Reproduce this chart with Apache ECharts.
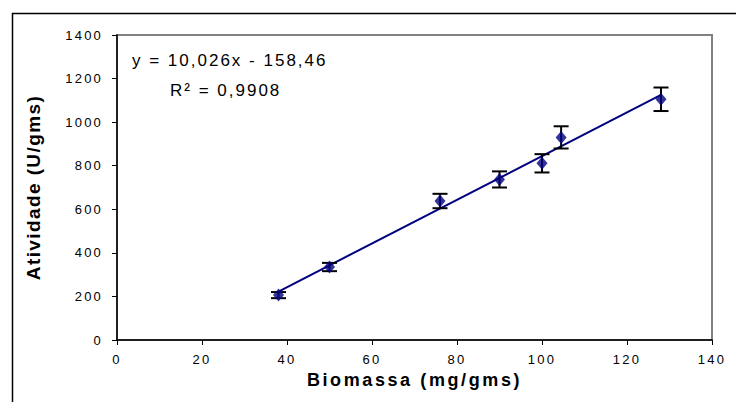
<!DOCTYPE html>
<html>
<head>
<meta charset="utf-8">
<script src="https://cdn.jsdelivr.net/npm/echarts@6/dist/echarts.min.js"></script>
<style>
html,body{margin:0;padding:0;background:#fff;}
#chart{width:736px;height:402px;}
#chart text[style*="13px"]{letter-spacing:2.2px;}
#chart text[style*="17px"]{letter-spacing:2px;}
#chart text[style*="18px"]{letter-spacing:2.6px;}
#chart text[style*="19px"]{letter-spacing:1.4px;}
</style>
</head>
<body>
<div id="chart"></div>
<script>
// Data
const biomassa = [38, 50, 76, 90, 100, 104.5, 128];
const atividade = [206, 335, 638, 737, 811, 930, 1105];
const erro = [14, 19, 33, 37, 42, 51, 54];
// Trendline as printed on the chart
const slope = 10.026;
const intercept = -158.46;
const trendX = [38, 128];
const eqText = 'y = 10,026x - 158,46';
const r2Text = 'R\u00B2 = 0,9908';
const xTitle = 'Biomassa (mg/gms)';
const yTitle = 'Atividade (U/gms)';

const points = biomassa.map((x, i) => [x, atividade[i]]);
const errData = biomassa.map((x, i) => [x, atividade[i] - erro[i], atividade[i] + erro[i]]);
const trendData = trendX.map(x => [x, slope * x + intercept]);

const chart = echarts.init(document.getElementById('chart'), null, {renderer: 'svg'});
const font = '"Liberation Sans", Arial, sans-serif';
chart.setOption({
  animation: false,
  backgroundColor: '#fff',
  grid: {left: 117, right: 24, top: 35, bottom: 62, show: true, borderColor: '#808080', borderWidth: 2, backgroundColor: 'transparent'},
  xAxis: {
    type: 'value', min: 0, max: 140, interval: 20,
    name: xTitle, nameLocation: 'middle', nameGap: 31,
    nameTextStyle: {fontFamily: font, fontSize: 18, fontWeight: 'bold', color: '#000'},
    axisLine: {show: true, onZero: false, lineStyle: {color: '#000', width: 1.5}},
    axisTick: {show: true, inside: false, length: 5, lineStyle: {color: '#000', width: 1}},
    axisLabel: {fontFamily: font, fontSize: 13, color: '#000', margin: 13, formatter: v => String(v)},
    splitLine: {show: false}
  },
  yAxis: {
    type: 'value', min: 0, max: 1400, interval: 200,
    name: yTitle, nameLocation: 'middle', nameGap: 74,
    nameTextStyle: {fontFamily: font, fontSize: 19, fontWeight: 'bold', color: '#000'},
    axisLine: {show: true, onZero: false, lineStyle: {color: '#000', width: 1.5}},
    axisTick: {show: true, inside: false, length: 5, lineStyle: {color: '#000', width: 1}},
    axisLabel: {fontFamily: font, fontSize: 13, color: '#000', margin: 14, formatter: v => String(v)},
    splitLine: {show: false}
  },
  graphic: [
    {type: 'rect', left: 10, top: 11, shape: {width: 800, height: 500}, style: {fill: 'none', stroke: '#000', lineWidth: 1.5}, silent: true, z: -10},
    {type: 'text', left: 132, top: 52, style: {text: eqText, font: '17px ' + font, fill: '#000'}},
    {type: 'text', left: 170, top: 82, style: {text: r2Text, font: '17px ' + font, fill: '#000'}}
  ],
  series: [
    {
      type: 'line', data: trendData, symbol: 'none', z: 3,
      lineStyle: {color: '#000080', width: 2}
    },
    {
      type: 'custom', data: errData, z: 4,
      renderItem: function (params, api) {
        const x = api.value(0);
        const lo = api.coord([x, api.value(1)]);
        const hi = api.coord([x, api.value(2)]);
        const hw = 7.5;
        const st = {stroke: '#000', lineWidth: 2};
        return {type: 'group', children: [
          {type: 'line', shape: {x1: lo[0], y1: lo[1], x2: hi[0], y2: hi[1]}, style: st},
          {type: 'line', shape: {x1: lo[0] - hw, y1: lo[1], x2: lo[0] + hw, y2: lo[1]}, style: st},
          {type: 'line', shape: {x1: hi[0] - hw, y1: hi[1], x2: hi[0] + hw, y2: hi[1]}, style: st}
        ]};
      }
    },
    {
      type: 'scatter', data: points, symbol: 'diamond', symbolSize: [11, 13], z: 5,
      itemStyle: {color: '#000080'}
    }
  ]
});
</script>
</body>
</html>
